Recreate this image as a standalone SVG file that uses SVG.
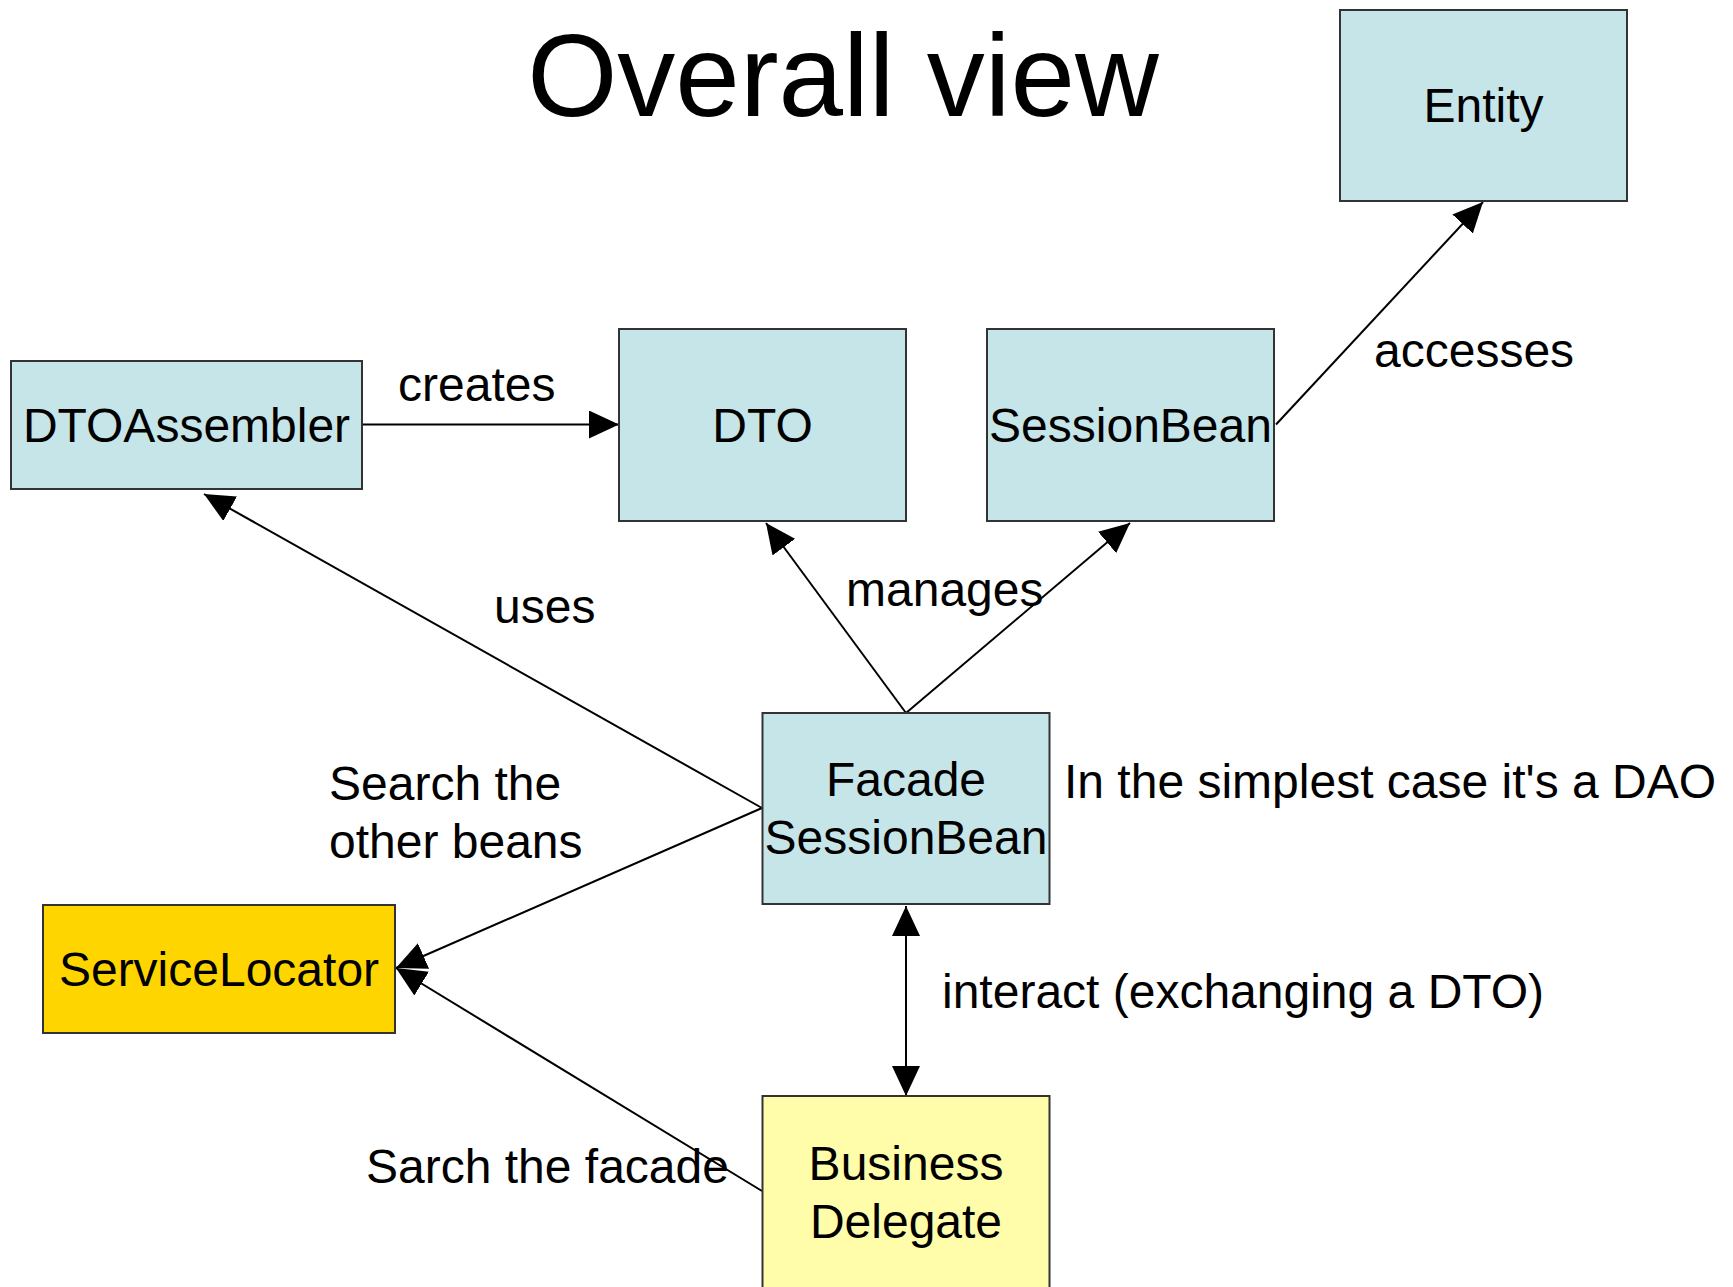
<svg xmlns="http://www.w3.org/2000/svg" width="1733" height="1287" viewBox="0 0 1733 1287">
  <style>
    .box { stroke: #333333; stroke-width: 2; }
    .blue { fill: #C6E5E8; }
    .gold { fill: #FFD500; }
    .pale { fill: #FFFCAA; }
    .lbl { font-family: "Liberation Sans", Arial, sans-serif; font-size: 48px; fill: #000; }
    .mid { text-anchor: middle; }
    .edge { fill: none; stroke: #000; stroke-width: 2; }
    .title { font-family: "Liberation Sans", Arial, sans-serif; font-size: 116px; fill: #000; text-anchor: middle; }
  </style>
  <defs>
    <marker id="arrow" markerUnits="userSpaceOnUse" markerWidth="30" markerHeight="28" refX="30" refY="14" orient="auto-start-reverse" viewBox="0 0 30 28">
      <path d="M0,0 L30,14 L0,28 Z" fill="#000"/>
    </marker>
  </defs>

  <rect width="1733" height="1287" fill="#fff"/>

  <text class="title" x="843" y="116">Overall view</text>

  <!-- connectors -->
  <g id="connectors">
    <line class="edge" x1="363" y1="424.5" x2="619" y2="424.5" marker-end="url(#arrow)"/>
    <line class="edge" x1="762" y1="808" x2="204" y2="494" marker-end="url(#arrow)"/>
    <line class="edge" x1="906" y1="713" x2="766" y2="523" marker-end="url(#arrow)"/>
    <line class="edge" x1="906" y1="713" x2="1130" y2="523" marker-end="url(#arrow)"/>
    <line class="edge" x1="1276" y1="424.5" x2="1483" y2="202" marker-end="url(#arrow)"/>
    <line class="edge" x1="762" y1="808" x2="396" y2="968" marker-end="url(#arrow)"/>
    <line class="edge" x1="762" y1="1191" x2="396" y2="968" marker-end="url(#arrow)"/>
    <line class="edge" x1="906" y1="906" x2="906" y2="1096" marker-start="url(#arrow)" marker-end="url(#arrow)"/>

    <text class="lbl" x="398" y="401">creates</text>
    <text class="lbl" x="494" y="623">uses</text>
    <text class="lbl" x="846" y="606">manages</text>
    <text class="lbl" x="1374" y="367">accesses</text>
    <text class="lbl" x="329" y="800">Search the</text>
    <text class="lbl" x="329" y="858">other beans</text>
    <text class="lbl" x="366" y="1183">Sarch the facade</text>
    <text class="lbl" x="942" y="1008">interact (exchanging a DTO)</text>
    <text class="lbl" x="1064" y="798">In the simplest case it's a DAO</text>
  </g>

  <g id="entity">
    <rect class="box blue" x="1340" y="10" width="287" height="191"/>
    <text class="lbl mid" x="1483.5" y="122">Entity</text>
  </g>

  <g id="dtoassembler">
    <rect class="box blue" x="11" y="361" width="351" height="128"/>
    <text class="lbl mid" x="186.5" y="442">DTOAssembler</text>
  </g>

  <g id="dto">
    <rect class="box blue" x="619" y="329" width="287" height="192"/>
    <text class="lbl mid" x="762.5" y="442">DTO</text>
  </g>

  <g id="sessionbean">
    <rect class="box blue" x="987" y="329" width="287" height="192"/>
    <text class="lbl mid" x="1130.5" y="442">SessionBean</text>
  </g>

  <g id="facade">
    <rect class="box blue" x="762.5" y="713" width="287" height="191"/>
    <text class="lbl mid" x="906" y="796">Facade</text>
    <text class="lbl mid" x="906" y="854">SessionBean</text>
  </g>

  <g id="servicelocator">
    <rect class="box gold" x="43" y="905" width="352" height="128"/>
    <text class="lbl mid" x="219" y="986">ServiceLocator</text>
  </g>

  <g id="businessdelegate">
    <rect class="box pale" x="762.5" y="1096" width="287" height="200"/>
    <text class="lbl mid" x="906" y="1180">Business</text>
    <text class="lbl mid" x="906" y="1238">Delegate</text>
  </g>
</svg>
